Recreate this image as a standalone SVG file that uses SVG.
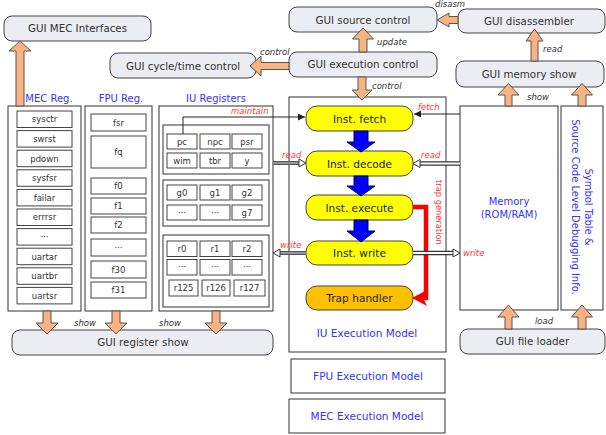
<svg xmlns="http://www.w3.org/2000/svg" width="606" height="435" viewBox="0 0 606 435">
<defs>
<marker id="tip" markerUnits="userSpaceOnUse" markerWidth="8" markerHeight="8" refX="7" refY="3.5" orient="auto"><path d="M0,0 L7,3.5 L0,7 Z" fill="#222"/></marker>
</defs>
<style>
.gui rect{fill:#ececf3;stroke:#444;stroke-width:1}
.gui text{font-family:"DejaVu Sans",sans-serif;font-size:10.3px;fill:#333;text-anchor:middle}
.panel{fill:#fff;stroke:#333;stroke-width:1}
.cell{fill:#fff;stroke:#444;stroke-width:1}
.ct{font-family:"DejaVu Sans",sans-serif;font-size:8.5px;fill:#333;text-anchor:middle}
.head{font-family:"DejaVu Sans",sans-serif;font-size:10px;fill:#3333ff;text-anchor:middle}
.stage rect{stroke:#444;stroke-width:1}
.stage text{font-family:"DejaVu Sans",sans-serif;font-size:10.6px;fill:#222;text-anchor:middle}
.big{fill:#f9b382;stroke:#555;stroke-width:1}
.blue{fill:#0000ff;stroke:#000060;stroke-width:1}
.lbl{font-family:"DejaVu Sans",sans-serif;font-size:8.5px;font-style:italic;fill:#333}
.red{font-family:"DejaVu Sans",sans-serif;font-size:8.5px;font-style:italic;fill:#ff3333}
.thin{fill:none;stroke:#222;stroke-width:1}
.dbl-o{stroke:#555;stroke-width:4}
.dbl-i{stroke:#aaa;stroke-width:1.5}
.dbr-o{stroke:#333;stroke-width:4.5}
.dbr-i{stroke:#fff;stroke-width:2}
.hollow{fill:#fff;stroke:#333;stroke-width:1}
</style>
<rect width="606" height="435" fill="#fff"/>

<!-- MEC register panel -->
<g id="mec-reg">
<text class="head" x="49" y="102">MEC Reg.</text>
<rect class="panel" x="8" y="106" width="73" height="205"/>
<rect class="cell" x="17" y="111" width="55" height="16.5"/><text class="ct" x="44.5" y="122.3">sysctr</text>
<rect class="cell" x="17" y="130.6" width="55" height="16.5"/><text class="ct" x="44.5" y="141.9">swrst</text>
<rect class="cell" x="17" y="150.2" width="55" height="16.5"/><text class="ct" x="44.5" y="161.5">pdown</text>
<rect class="cell" x="17" y="169.8" width="55" height="16.5"/><text class="ct" x="44.5" y="181.1">sysfsr</text>
<rect class="cell" x="17" y="189.4" width="55" height="16.5"/><text class="ct" x="44.5" y="200.7">failar</text>
<rect class="cell" x="17" y="209" width="55" height="16.5"/><text class="ct" x="44.5" y="220.3">errrsr</text>
<rect class="cell" x="17" y="228.6" width="55" height="16.5"/><text class="ct" x="44.5" y="239.9">···</text>
<rect class="cell" x="17" y="248.2" width="55" height="16.5"/><text class="ct" x="44.5" y="259.5">uartar</text>
<rect class="cell" x="17" y="267.8" width="55" height="16.5"/><text class="ct" x="44.5" y="279.1">uartbr</text>
<rect class="cell" x="17" y="287.4" width="55" height="16.5"/><text class="ct" x="44.5" y="298.7">uartsr</text>
</g>

<!-- FPU register panel -->
<g id="fpu-reg">
<text class="head" x="121" y="102">FPU Reg.</text>
<rect class="panel" x="85" y="106" width="67" height="205"/>
<rect class="cell" x="91" y="114" width="55" height="17"/><text class="ct" x="118.5" y="125.5">fsr</text>
<rect class="cell" x="91" y="136" width="55" height="32"/><text class="ct" x="118.5" y="155">fq</text>
<rect class="cell" x="91" y="178" width="55" height="16"/><text class="ct" x="118.5" y="189">f0</text>
<rect class="cell" x="91" y="198" width="55" height="16"/><text class="ct" x="118.5" y="209">f1</text>
<rect class="cell" x="91" y="217" width="55" height="16"/><text class="ct" x="118.5" y="228">f2</text>
<rect class="cell" x="91" y="239" width="55" height="17"/><text class="ct" x="118.5" y="250.5">···</text>
<rect class="cell" x="91" y="261" width="55" height="17"/><text class="ct" x="118.5" y="272.5">f30</text>
<rect class="cell" x="91" y="282" width="55" height="16"/><text class="ct" x="118.5" y="293">f31</text>
</g>

<!-- IU register panel -->
<g id="iu-reg">
<text class="head" x="216" y="102">IU Registers</text>
<rect class="panel" x="159" y="106" width="114" height="205"/>
<rect class="panel" x="163" y="125" width="106" height="49"/>
<rect class="cell" x="167" y="134" width="30" height="15"/><text class="ct" x="182" y="144.5">pc</text>
<rect class="cell" x="200" y="134" width="30" height="15"/><text class="ct" x="215" y="144.5">npc</text>
<rect class="cell" x="232" y="134" width="30" height="15"/><text class="ct" x="247" y="144.5">psr</text>
<rect class="cell" x="167" y="153" width="30" height="15"/><text class="ct" x="182" y="163.5">wim</text>
<rect class="cell" x="200" y="153" width="30" height="15"/><text class="ct" x="215" y="163.5">tbr</text>
<rect class="cell" x="232" y="153" width="30" height="15"/><text class="ct" x="247" y="163.5">y</text>
<rect class="panel" x="163" y="180" width="106" height="46"/>
<rect class="cell" x="167" y="185" width="30" height="15"/><text class="ct" x="182" y="195.5">g0</text>
<rect class="cell" x="200" y="185" width="30" height="15"/><text class="ct" x="215" y="195.5">g1</text>
<rect class="cell" x="232" y="185" width="30" height="15"/><text class="ct" x="247" y="195.5">g2</text>
<rect class="cell" x="167" y="205" width="30" height="15"/><text class="ct" x="182" y="215.5">···</text>
<rect class="cell" x="200" y="205" width="30" height="15"/><text class="ct" x="215" y="215.5">···</text>
<rect class="cell" x="232" y="205" width="30" height="15"/><text class="ct" x="247" y="215.5">g7</text>
<rect class="panel" x="163" y="235" width="106" height="72"/>
<rect class="cell" x="167" y="241" width="30" height="15.5"/><text class="ct" x="182" y="251.8">r0</text>
<rect class="cell" x="200" y="241" width="30" height="15.5"/><text class="ct" x="215" y="251.8">r1</text>
<rect class="cell" x="232" y="241" width="30" height="15.5"/><text class="ct" x="247" y="251.8">r2</text>
<rect class="cell" x="167" y="259.5" width="30" height="15.5"/><text class="ct" x="182" y="270.3">···</text>
<rect class="cell" x="200" y="259.5" width="30" height="15.5"/><text class="ct" x="215" y="270.3">···</text>
<rect class="cell" x="232" y="259.5" width="30" height="15.5"/><text class="ct" x="247" y="270.3">···</text>
<rect class="cell" x="169" y="280" width="29" height="16"/><text class="ct" x="183.5" y="291">r125</text>
<rect class="cell" x="202" y="280" width="28" height="16"/><text class="ct" x="216" y="291">r126</text>
<rect class="cell" x="234" y="280" width="31" height="16"/><text class="ct" x="249.5" y="291">r127</text>
</g>

<!-- execution models -->
<g id="iu-model">
<rect class="panel" x="289" y="97" width="157" height="255"/>
<text class="head" x="367" y="337" style="font-size:10.5px">IU Execution Model</text>
</g>
<g id="fpu-model">
<rect class="panel" x="291" y="359" width="154" height="34"/>
<text class="head" x="368" y="380" style="font-size:10.5px">FPU Execution Model</text>
</g>
<g id="mec-model">
<rect class="panel" x="289" y="399" width="156" height="34"/>
<text class="head" x="367" y="420" style="font-size:10.5px">MEC Execution Model</text>
</g>

<!-- pipeline stages -->
<g id="inst-fetch" class="stage"><rect x="306" y="106" width="107" height="25" rx="11" fill="#ffff00"/><text x="359.5" y="122.5">Inst. fetch</text></g>
<g id="inst-decode" class="stage"><rect x="306" y="151" width="107" height="25" rx="11" fill="#ffff00"/><text x="359.5" y="167.5">Inst. decode</text></g>
<g id="inst-execute" class="stage"><rect x="306" y="195" width="107" height="25" rx="11" fill="#ffff00"/><text x="359.5" y="211.5">Inst. execute</text></g>
<g id="inst-write" class="stage"><rect x="306" y="241" width="107" height="24" rx="11" fill="#ffff00"/><text x="359.5" y="257">Inst. write</text></g>
<g id="trap-handler" class="stage"><rect x="306" y="286" width="107" height="24" rx="11" fill="#ffc000"/><text x="359.5" y="302">Trap handler</text></g>

<!-- memory and symbol table -->
<g id="memory">
<rect class="panel" x="460" y="106" width="98" height="204"/>
<text class="head" x="509" y="205">Memory</text>
<text class="head" x="509" y="218">(ROM/RAM)</text>
</g>
<g id="symbol-table">
<rect class="panel" x="561" y="106" width="42" height="204"/>
<g transform="translate(582,207) rotate(90)">
<text class="head" x="0" y="-3">Symbol Table &amp;</text>
<text class="head" x="0" y="10">Source Code Level Debugging Info.</text>
</g>
</g>

<!-- GUI components -->
<g id="gui-mec-interfaces" class="gui"><rect x="4" y="16" width="147" height="25" rx="8"/><text x="77.5" y="32">GUI MEC Interfaces</text></g>
<g id="gui-cycle-time" class="gui"><rect x="110" y="53" width="146" height="25" rx="8"/><text x="183" y="69.5">GUI cycle/time control</text></g>
<g id="gui-source" class="gui"><rect x="289" y="7" width="148" height="25" rx="8"/><text x="363" y="23.5">GUI source control</text></g>
<g id="gui-disassembler" class="gui"><rect x="458" y="9" width="147" height="24" rx="8"/><text x="529" y="25">GUI disassembler</text></g>
<g id="gui-exec-control" class="gui"><rect x="289" y="52" width="148" height="25" rx="8"/><text x="363" y="68">GUI execution control</text></g>
<g id="gui-memory-show" class="gui"><rect x="456" y="61" width="148" height="26" rx="8"/><text x="529" y="78">GUI memory show</text></g>
<g id="gui-register-show" class="gui"><rect x="12" y="330" width="261" height="25" rx="8"/><text x="143" y="346">GUI register show</text></g>
<g id="gui-file-loader" class="gui"><rect x="460" y="329" width="145" height="25" rx="8"/><text x="532.5" y="345">GUI file loader</text></g>

<!-- connectors -->
<g id="connectors">
<!-- block arrows between components -->
<path class="big" d="M16,106 V51 H9 L20,41 L31,51 H24 V106 Z"/>
<path class="big" d="M289,62.5 H261 V56 L250,66 L261,76 V69.5 H289 Z"/>
<path class="big" d="M359,52 V39 H352.5 L363,28 L373.5,39 H367 V52 Z"/>
<path class="big" d="M458,16.5 H449 V13 L437,20 L449,27 V23.5 H458 Z"/>
<path class="big" d="M531,61 V41 H526 L534.5,29 L543,41 H538 V61 Z"/>
<path class="big" d="M358,77 V90 H352 L362,100 L372,90 H366 V77 Z"/>
<path class="big" d="M505,106 V95 H498 L508.5,83.5 L519,95 H512 V106 Z"/>
<path class="big" d="M578,106 V95 H571.5 L582,83.5 L592.5,95 H586 V106 Z"/>
<path class="big" d="M505,329 V317 H498 L508.5,305 L519,317 H512 V329 Z"/>
<path class="big" d="M578,329 V317 H571.5 L582,305 L592.5,317 H586 V329 Z"/>
<path class="big" d="M43,311 V323 H36 L47,334 L58,323 H51 V311 Z"/>
<path class="big" d="M112,311 V323 H105 L116,334 L127,323 H120 V311 Z"/>
<path class="big" d="M212,311 V323 H205 L216,334 L227,323 H220 V311 Z"/>
<text class="lbl" x="260" y="55">control</text>
<text class="lbl" x="377" y="45">update</text>
<text class="lbl" x="435" y="7">disasm</text>
<text class="lbl" x="543" y="52">read</text>
<text class="lbl" x="372" y="89">control</text>
<text class="lbl" x="527" y="100">show</text>
<text class="lbl" x="535" y="324">load</text>
<text class="lbl" x="74" y="326">show</text>
<text class="lbl" x="159" y="326">show</text>

<!-- pipeline flow -->
<path class="blue" d="M354,131 V142 H347 L361,152 L375,142 H368 V131 Z"/>
<path class="blue" d="M354,176 V186 H347 L361,196 L375,186 H368 V176 Z"/>
<path class="blue" d="M354,220 V231 H347 L361,242 L375,231 H368 V220 Z"/>

<!-- trap generation -->
<path d="M413,207 H426 V298 H421" fill="none" stroke="#ff0000" stroke-width="4.5"/>
<path d="M412,298 L427,290 L423,298 L427,306 Z" fill="#ff0000"/>
<text transform="translate(436,180) rotate(90)" style="font-family:'DejaVu Sans',sans-serif;font-size:8.3px;fill:#ff3333">trap generation</text>

<!-- thin control lines -->
<polyline class="thin" points="183,134 183,117 305,117" marker-end="url(#tip)"/>
<line class="thin" x1="460" y1="114" x2="414" y2="114" marker-end="url(#tip)"/>
<text class="red" x="231" y="113.5">maintain</text>
<text class="red" x="418" y="110">fetch</text>

<!-- data paths -->
<line class="dbl-o" x1="273" y1="163" x2="300" y2="163"/>
<line class="dbl-i" x1="273" y1="163" x2="300" y2="163"/>
<polygon class="hollow" points="306,163 299,159 299,167"/>
<line class="dbr-o" x1="460" y1="163.5" x2="419" y2="163.5"/>
<line class="dbr-i" x1="460" y1="163.5" x2="419" y2="163.5"/>
<polygon class="hollow" points="413,163.5 420,159.5 420,167.5"/>
<line class="dbl-o" x1="306" y1="253" x2="279" y2="253"/>
<line class="dbl-i" x1="306" y1="253" x2="279" y2="253"/>
<polygon class="hollow" points="273,253 280,249 280,257"/>
<line class="dbr-o" x1="413" y1="253" x2="454" y2="253"/>
<line class="dbr-i" x1="413" y1="253" x2="454" y2="253"/>
<polygon class="hollow" points="460,253 453,249 453,257"/>
<text class="red" x="282" y="158">read</text>
<text class="red" x="421" y="158">read</text>
<text class="red" x="280" y="248">write</text>
<text class="red" x="463" y="256">write</text>
</g>
</svg>
